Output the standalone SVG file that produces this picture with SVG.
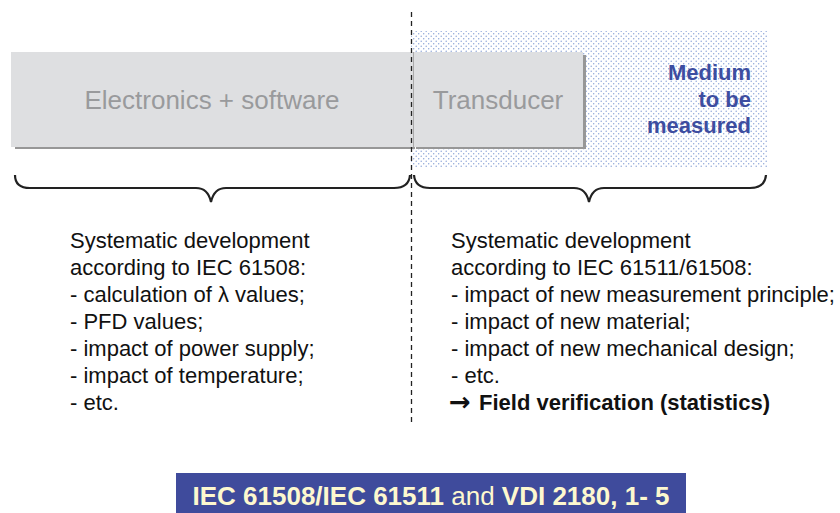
<svg xmlns="http://www.w3.org/2000/svg" width="840" height="513" viewBox="0 0 840 513">
<defs>
<pattern id="dots" width="5" height="5" patternUnits="userSpaceOnUse">
<circle cx="1.2" cy="1.2" r="0.75" fill="#8fa6d8"/>
<circle cx="3.7" cy="3.7" r="0.75" fill="#8fa6d8"/>
</pattern>
</defs>
<style>
.box{fill:#dedfe1}
.shadow{fill:#979797}
.boxlabel{font-family:"Liberation Sans",Arial,sans-serif;font-size:26px;fill:#999a9c}
.medium{font-family:"Liberation Sans",Arial,sans-serif;font-size:22px;font-weight:bold;fill:#3d4da0}
.body{font-family:"Liberation Sans",Arial,sans-serif;font-size:22px;fill:#111}
.brace{fill:none;stroke:#222;stroke-width:2.2}
.divider{stroke:#222;stroke-width:1.3;stroke-dasharray:5,4}
</style>
<g id="medium">
<rect x="411" y="31" width="356" height="136" fill="url(#dots)"/>
<text class="medium" text-anchor="end"><tspan x="751" y="80">Medium</tspan><tspan x="751" y="107">to be</tspan><tspan x="751" y="133">measured</tspan></text>
</g>
<g id="electronics">
<rect class="shadow" x="15" y="146" width="400" height="3"/>
<rect class="box" x="11" y="52" width="402" height="95"/>
<text class="boxlabel" x="212" y="109" text-anchor="middle">Electronics + software</text>
</g>
<g id="transducer">
<rect class="shadow" x="416" y="55" width="170" height="94"/>
<rect class="box" x="414" y="52" width="169" height="95"/>
<line x1="413.5" y1="52" x2="413.5" y2="147" stroke="#aaa" stroke-width="1"/>
<text class="boxlabel" x="498" y="109" text-anchor="middle">Transducer</text>
</g>
<g id="connectors">
<line class="divider" x1="411.5" y1="12" x2="411.5" y2="422"/>
<path class="brace" d="M15,175 Q15,188 30,188 L196,188 Q208,188 211,202 Q214,188 226,188 L394,188 Q409,188 410,175"/>
<path class="brace" d="M414,175 Q415,188 430,188 L574,188 Q586,188 589,202 Q592,188 604,188 L750,188 Q765,188 766,175"/>
</g>
<g id="left-text">
<text class="body"><tspan x="70" y="248">Systematic development</tspan><tspan x="70" y="275">according to IEC 61508:</tspan><tspan x="70" y="302">- calculation of λ values;</tspan><tspan x="70" y="329">- PFD values;</tspan><tspan x="70" y="356">- impact of power supply;</tspan><tspan x="70" y="383">- impact of temperature;</tspan><tspan x="70" y="410">- etc.</tspan></text>
</g>
<g id="right-text">
<text class="body"><tspan x="451" y="248">Systematic development</tspan><tspan x="451" y="275">according to IEC 61511/61508:</tspan><tspan x="451" y="302">- impact of new measurement principle;</tspan><tspan x="451" y="329">- impact of new material;</tspan><tspan x="451" y="356">- impact of new mechanical design;</tspan><tspan x="451" y="383">- etc.</tspan></text>
<text class="body" y="410" font-weight="bold"><tspan x="449" y="411" font-family="DejaVu Sans,sans-serif" font-size="26">→</tspan><tspan x="479" y="410">Field verification (statistics)</tspan></text>
</g>
<g id="standards">
<rect x="176" y="473" width="510" height="40" fill="#3f4b9c"/>
<text x="431" y="505" text-anchor="middle" font-family="Liberation Sans,Arial,sans-serif" font-size="26" fill="#fdf8cf"><tspan font-weight="bold">IEC 61508/IEC 61511</tspan> and <tspan font-weight="bold">VDI 2180, 1- 5</tspan></text>
</g>
</svg>
